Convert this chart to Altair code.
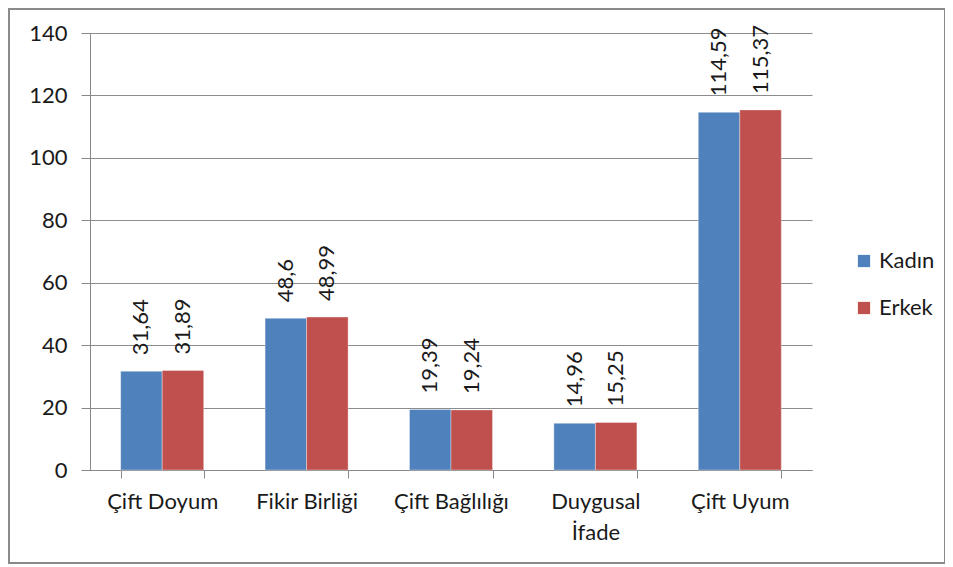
import altair as alt
import pandas as pd

categories = ["Çift Doyum", "Fikir Birliği", "Çift Bağlılığı", "Duygusal|İfade", "Çift Uyum"]
series_names = ["Kadın", "Erkek"]
kadin = [31.64, 48.6, 19.39, 14.96, 114.59]
erkek = [31.89, 48.99, 19.24, 15.25, 115.37]
colors = ["#4F81BD", "#C0504D"]
y_ticks = [0, 20, 40, 60, 80, 100, 120, 140]

rows = []
for c, k, e in zip(categories, kadin, erkek):
    rows.append({"cat": c, "series": "Kadın", "value": k, "label": str(k).replace(".", ",")})
    rows.append({"cat": c, "series": "Erkek", "value": e, "label": str(e).replace(".", ",")})
df = pd.DataFrame(rows)

FONT = "Lato"
FS = 22
TXT = "#1a1a1a"

x = alt.X("cat:N", sort=categories, title=None,
          scale=alt.Scale(paddingInner=0.425, paddingOuter=0.2125),
          axis=alt.Axis(labelAngle=0, tickBand="extent", tickSize=8, labelPadding=13,
                        labelExpr="split(datum.label, '|')", labelLineHeight=31,
                        grid=False, labelFont=FONT, labelFontSize=FS, labelColor=TXT))
y = alt.Y("value:Q", title=None,
          scale=alt.Scale(domain=[0, 140], nice=False),
          axis=alt.Axis(values=y_ticks, tickSize=9, labelPadding=14, grid=True,
                        labelFont=FONT, labelFontSize=FS, labelColor=TXT))
xo = alt.XOffset("series:N", sort=series_names)

base = alt.Chart(df)
bars = base.mark_bar(stroke="#ffffff", strokeOpacity=0.35, strokeWidth=1).encode(
    x=x, y=y, xOffset=xo,
    color=alt.Color("series:N", sort=series_names,
                    scale=alt.Scale(domain=series_names, range=colors),
                    legend=alt.Legend(title=None, orient="none", legendX=763, legendY=217,
                                      symbolType="square", symbolSize=150, symbolStrokeWidth=0,
                                      labelFont=FONT, labelFontSize=FS, labelColor=TXT,
                                      rowPadding=25, labelOffset=4))
)
texts = base.mark_text(angle=270, align="left", baseline="middle", dx=16,
                       font=FONT, fontSize=FS, color=TXT).encode(
    x=x, y=y, xOffset=xo, text="label:N"
)

border = alt.Chart(pd.DataFrame({"a": [0]})).mark_rect(
    fillOpacity=0, stroke="#8a8a8a", strokeWidth=2
).encode(x=alt.value(-81), x2=alt.value(855), y=alt.value(-24), y2=alt.value(530))

chart = alt.layer(bars, texts, border).properties(
    width=722, height=437,
    autosize=alt.AutoSizeParams(type="none"),
    padding={"left": 82, "top": 25, "right": 133, "bottom": 94},
).configure_view(stroke=None).configure_axis(
    domainColor="#888888", tickColor="#888888", gridColor="#8c8c8c", gridWidth=1
)

chart.save("out.html", embed_options={"renderer": "svg", "actions": False})
